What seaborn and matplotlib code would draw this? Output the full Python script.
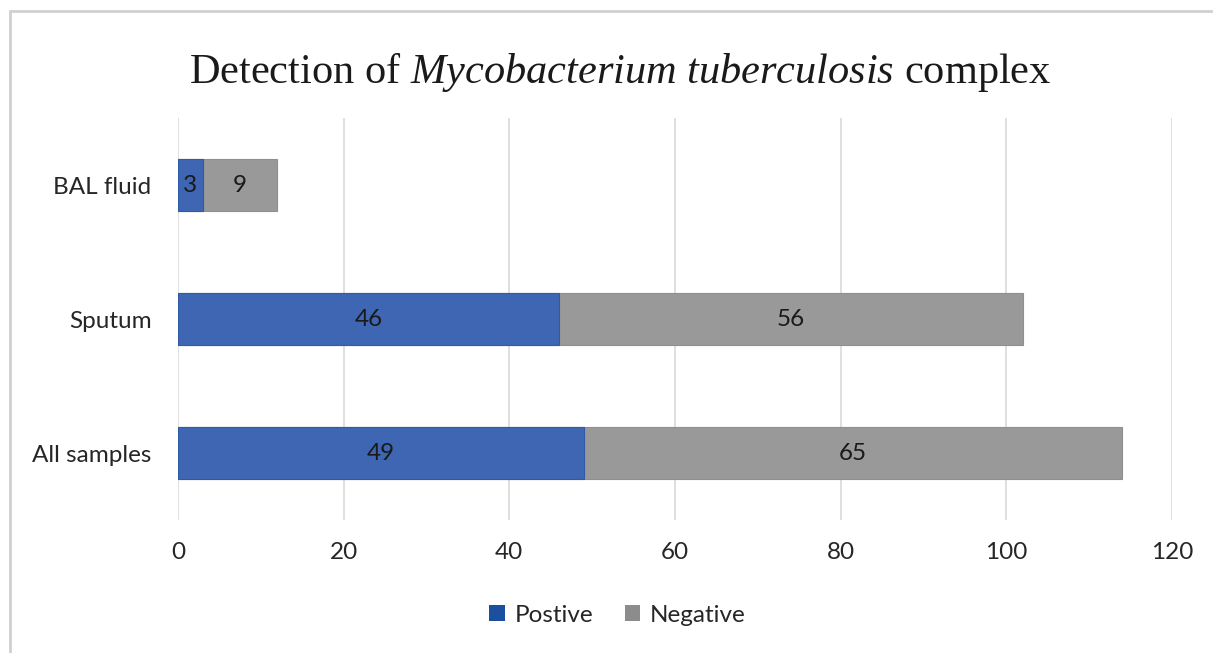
import pandas as pd
import numpy as np
import seaborn as sns
import matplotlib.pyplot as plt
from matplotlib.lines import Line2D
from matplotlib.patches import Patch

# data
samples = ['BAL fluid', 'Sputum', 'All samples']
positive = [3, 46, 49]
negative = [9, 56, 65]
x_ticks = [0, 20, 40, 60, 80, 100, 120]

df = pd.DataFrame({'Sample': samples, 'Positive': positive, 'Negative': negative})
df['Total'] = df['Positive'] + df['Negative']

blue = '#3f66b3'
gray = '#999999'

sns.set_theme(style='white')
plt.rcParams['font.family'] = ['Lato', 'DejaVu Sans']
plt.rcParams['mathtext.fontset'] = 'custom'
plt.rcParams['mathtext.rm'] = 'Liberation Serif'
plt.rcParams['mathtext.it'] = 'Liberation Serif:italic'

fig = plt.figure(figsize=(12.13, 6.53), dpi=100)
ax = fig.add_axes([178/1213, 1 - 520/653, (1172 - 178)/1213, (520 - 118)/653])

# stacked: total in gray underneath, positive in blue on top
sns.barplot(data=df, y='Sample', x='Total', order=samples, color=gray,
            width=0.39, edgecolor='#8f8f8f', linewidth=0.8, saturation=1, ax=ax)
sns.barplot(data=df, y='Sample', x='Positive', order=samples, color=blue,
            width=0.39, edgecolor='#2f5aa8', linewidth=0.8, saturation=1, ax=ax)

ax.set_xlim(0, 120)
ax.set_ylim(2.5, -0.5)
ax.set_xticks(x_ticks)
ax.set_xlabel('')
ax.set_ylabel('')
ax.grid(axis='x', color='#d9d9d9', linewidth=1.2)
ax.set_axisbelow(True)
for s in ax.spines.values():
    s.set_visible(False)
ax.tick_params(axis='both', length=0, labelsize=17.5, colors='#262626')
ax.tick_params(axis='y', pad=19)
ax.tick_params(axis='x', pad=16)

# data labels
for i, (p, n) in enumerate(zip(positive, negative)):
    ax.text(p / 2, i, str(p), ha='center', va='center', fontsize=17.5, color='#1a1a1a')
    ax.text(p + n / 2, i, str(n), ha='center', va='center', fontsize=17.5, color='#1a1a1a')

fig.text(0.511, 1 - 73/653,
         r'Detection of $\mathit{Mycobacterium\ tuberculosis}$ complex',
         ha='center', va='center', fontsize=30.5, color='#1a1a1a',
         family='Liberation Serif')

handles = [Patch(facecolor='#1d4fa0', edgecolor='none'),
           Patch(facecolor='#8c8c8c', edgecolor='none')]
fig.legend(handles, ['Postive', 'Negative'], loc='center',
           bbox_to_anchor=(0.509, 1 - 615/653), ncol=2, frameon=False,
           fontsize=17.5, handlelength=0.65, handleheight=0.65,
           handletextpad=0.4, columnspacing=1.3, labelcolor='#262626')

# outer frame (top and left edges visible in the reference)
fig.add_artist(Line2D([10/1213, 1], [1 - 11/653, 1 - 11/653], color='#d0d0d0', lw=2, transform=fig.transFigure))
fig.add_artist(Line2D([10/1213, 10/1213], [0, 1 - 11/653], color='#d0d0d0', lw=2, transform=fig.transFigure))

fig.savefig('out.png', dpi=100)
